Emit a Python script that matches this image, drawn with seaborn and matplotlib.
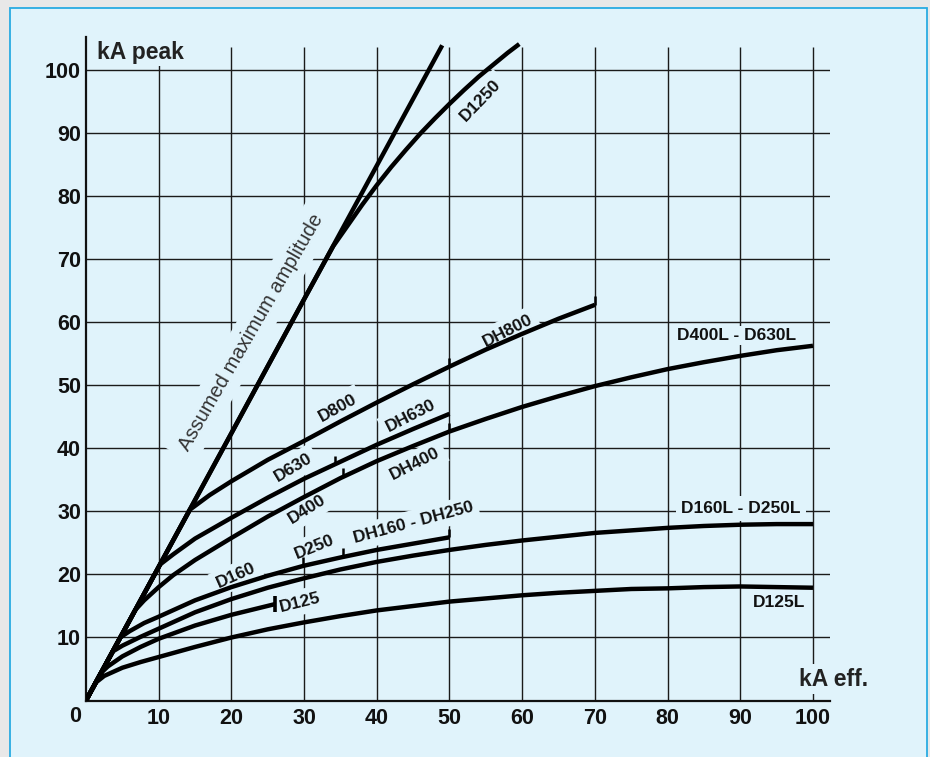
import numpy as np
import pandas as pd
import seaborn as sns
import matplotlib.pyplot as plt
from matplotlib.patches import Rectangle

# axis ticks
x_ticks = [10, 20, 30, 40, 50, 60, 70, 80, 90, 100]
y_ticks = [10, 20, 30, 40, 50, 60, 70, 80, 90, 100]

# curves (kA eff. -> kA peak)
amp_x = [0, 49]
amp_y = [0, 104]

d1250_x = [0, 10, 20, 30, 34, 36, 38, 40, 42, 44, 46, 48, 50, 52, 54, 56, 58, 59.6]
d1250_y = [0, 21.2, 42.4, 63.7, 72.1, 75.4, 78.7, 81.8, 84.7, 87.4, 90.0, 92.4, 94.7, 96.9,
           99.0, 100.9, 102.8, 104.2]

d800_x = [0, 14.3, 17, 20, 25, 30, 35, 40, 45, 50, 55, 60, 65, 70]
d800_y = [0, 30.3, 32.6, 34.8, 38.2, 41.2, 44.3, 47.3, 50.2, 53.0, 55.7, 58.2, 60.6, 62.8]

d630_x = [0, 10.2, 12, 15, 20, 25, 30, 35, 40, 45, 50]
d630_y = [0, 21.6, 23.2, 25.7, 29.0, 32.2, 35.2, 37.9, 40.6, 43.1, 45.5]

d400_x = [0, 6.8, 8, 10, 12, 15, 20, 25, 30, 35, 40, 45, 50, 55, 60, 65, 70, 75, 80, 85, 90, 95, 100]
d400_y = [0, 14.4, 15.9, 18.0, 19.9, 22.3, 25.8, 29.2, 32.3, 35.3, 38.0, 40.4, 42.7, 44.7, 46.6,
          48.3, 49.9, 51.3, 52.6, 53.7, 54.7, 55.6, 56.3]

d160_x = [0, 4.7, 6, 8, 10, 15, 20, 25, 30, 35, 40, 45, 50]
d160_y = [0, 10.0, 11.0, 12.3, 13.3, 15.9, 18.0, 19.8, 21.4, 22.7, 23.9, 24.9, 25.9]

d160l_x = [0, 3.7, 5, 7.5, 10, 15, 20, 25, 30, 35, 40, 45, 50, 55, 60, 65, 70, 75, 80, 85, 90, 95, 100]
d160l_y = [0, 7.8, 8.7, 10.1, 11.4, 14.0, 16.1, 17.9, 19.4, 20.8, 22.0, 23.0, 23.9, 24.7, 25.4,
           26.0, 26.6, 27.0, 27.4, 27.7, 27.9, 28.0, 28.0]

d125_x = [0, 2, 3, 5, 7.5, 10, 15, 20, 26]
d125_y = [0, 4.3, 5.4, 7.0, 8.5, 9.8, 11.9, 13.6, 15.3]

d125l_x = [0, 1.3, 2.5, 5, 7.5, 10, 15, 20, 25, 30, 35, 40, 45, 50, 55, 60, 65, 70, 75, 80, 85, 90, 95, 100]
d125l_y = [0, 2.8, 3.9, 5.2, 6.1, 6.9, 8.5, 10.0, 11.3, 12.4, 13.4, 14.3, 15.0, 15.7, 16.2, 16.7,
           17.1, 17.4, 17.7, 17.8, 18.0, 18.1, 18.0, 17.9]

# where one rating ends and the next starts along a curve
marks_800 = [50, 70]
marks_630 = [34.2]
marks_400 = [35.3, 50]
marks_160 = [29.8, 35.4, 50]
marks_125 = [26]

curves = {
    "amp": (amp_x, amp_y),
    "D1250": (d1250_x, d1250_y),
    "D800": (d800_x, d800_y),
    "D630": (d630_x, d630_y),
    "D400": (d400_x, d400_y),
    "D160": (d160_x, d160_y),
    "D160L": (d160l_x, d160l_y),
    "D125": (d125_x, d125_y),
    "D125L": (d125l_x, d125l_y),
}
df = pd.concat([pd.DataFrame({"ieff": x, "ipk": y, "curve": name})
                for name, (x, y) in curves.items()], ignore_index=True)

bg = "#e0f3fb"
sns.set_theme(style="white")
plt.rcParams["font.family"] = ["Liberation Sans", "DejaVu Sans"]

fig = plt.figure(figsize=(9.3, 7.57), dpi=100, facecolor="#e8e8e8")
fig.add_artist(Rectangle((9.5 / 930, -0.02), 917 / 930, 1.0147 - 4 / 757,
                         transform=fig.transFigure, facecolor=bg,
                         edgecolor="#29abe2", lw=1.3, zorder=-10))
ax = fig.add_axes([86 / 930, 56.5 / 757, 743.7 / 930, 663.4 / 757])
ax.set_facecolor("none")

# grid drawn by hand so it stops short of the axes top
ax.vlines(x_ticks, 0, 103.7, colors="#1a1a1a", lw=1.0, zorder=1)
ax.hlines(y_ticks, 0, 102.3, colors="#1a1a1a", lw=1.0, zorder=1)

sns.lineplot(data=df, x="ieff", y="ipk", units="curve", estimator=None, sort=False,
             color="black", lw=3.2, legend=False, ax=ax, zorder=5,
             solid_capstyle="butt")

for marks, (cx, cy) in [(marks_800, curves["D800"]), (marks_630, curves["D630"]),
                        (marks_400, curves["D400"]), (marks_160, curves["D160"])]:
    yb = np.interp(marks, cx, cy)
    ax.vlines(marks, yb, yb + 1.4, colors="black", lw=1.8, zorder=5)
yb = np.interp(marks_125, d125_x, d125_y)
ax.vlines(marks_125, yb - 1.3, yb + 1.3, colors="black", lw=2.6, zorder=5)

labels = [
    ("D1250", 54.3, 95.3, 46),
    ("D800", 34.6, 46.5, 29),
    ("DH800", 58.0, 58.7, 27),
    ("D630", 28.5, 37.0, 31),
    ("DH630", 44.7, 45.2, 27),
    ("D400", 30.4, 30.3, 32),
    ("DH400", 45.3, 37.6, 27),
    ("D250", 31.4, 24.4, 22),
    ("DH160 - DH250", 45.0, 28.2, 15),
    ("D160", 20.7, 19.8, 24),
    ("D125", 29.5, 15.6, 14),
    ("D160L - D250L", 90.1, 30.5, 0),
    ("D125L", 95.4, 15.5, 0),
]
for txt, lx, ly, rot in labels:
    ax.text(lx, ly, txt, rotation=rot, rotation_mode="anchor", ha="center", va="center",
            fontsize=12.5, fontweight="bold", color="#111111", zorder=3,
            bbox=dict(boxstyle="square,pad=0.3", fc=bg, ec="none"))
ax.text(89.5, 57.9, "D400L - D630L", ha="center", va="center", fontsize=12.5,
        fontweight="bold", color="#111111", zorder=3,
        bbox=dict(boxstyle="square,pad=0.1", fc=bg, ec="none"))
ax.text(22.7, 58.5, "Assumed maximum amplitude", rotation=60, rotation_mode="anchor",
        ha="center", va="center", fontsize=14.5, color="#333333", zorder=3,
        bbox=dict(boxstyle="square,pad=0.4", fc=bg, ec="none"))

ax.text(1.5, 102.9, "kA peak", ha="left", va="center", fontsize=16.5, fontweight="bold",
        color="#222222", zorder=3, bbox=dict(boxstyle="square,pad=0.1", fc=bg, ec="none"))
ax.text(102.9, 3.4, "kA eff.", ha="center", va="center", fontsize=16.5, fontweight="bold",
        color="#222222", zorder=3, bbox=dict(boxstyle="square,pad=0.15", fc=bg, ec="none"))

ax.set_xlim(0, 102.3)
ax.set_ylim(0, 105.3)
ax.set_xticks(x_ticks)
ax.set_yticks(y_ticks)
ax.set_xticklabels([str(v) for v in x_ticks])
ax.set_yticklabels([str(v) for v in y_ticks])
ax.tick_params(axis="both", length=0, labelsize=15.5, labelcolor="#111111")
ax.tick_params(axis="x", pad=5.6)
ax.tick_params(axis="y", pad=3.6)
for lab in ax.get_xticklabels() + ax.get_yticklabels():
    lab.set_fontweight("bold")
ax.text(-1.5, -0.024, "0", transform=ax.get_xaxis_transform(), ha="center", va="center",
        fontsize=15.5, fontweight="bold", color="#111111")
ax.set_xlabel("")
ax.set_ylabel("")

for side in ["top", "right"]:
    ax.spines[side].set_visible(False)
for side in ["left", "bottom"]:
    ax.spines[side].set_color("#111111")
    ax.spines[side].set_linewidth(1.6)

fig.savefig("out.png", dpi=100, facecolor=fig.get_facecolor())
